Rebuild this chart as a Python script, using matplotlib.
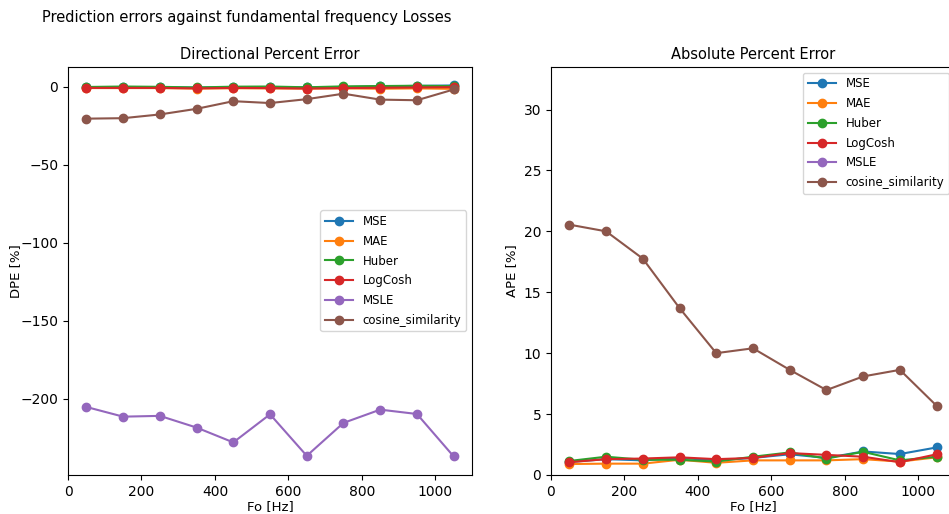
import numpy as np
import matplotlib
matplotlib.use("Agg")
import matplotlib.pyplot as plt

# fundamental frequencies
fo = [50, 150, 250, 350, 450, 550, 650, 750, 850, 950, 1050]
losses = ["MSE", "MAE", "Huber", "LogCosh", "MSLE", "cosine_similarity"]

# directional percent error [%]
dpe_mse = [-0.5, -0.3, -0.4, -0.6, -0.3, -0.4, -0.5, -0.3, 0.2, 0.5, 0.8]
dpe_mae = [-0.9, -0.9, -0.9, -1.2, -1.0, -1.1, -1.2, -1.1, -1.3, -1.1, -1.4]
dpe_huber = [-0.2, 0.1, -0.1, -0.5, 0.0, 0.1, -0.4, 0.2, 0.4, 0.6, 0.3]
dpe_logcosh = [-0.8, -0.8, -0.8, -1.1, -0.8, -0.9, -1.2, -0.9, -0.7, -0.5, -0.3]
dpe_msle = [-205.3, -211.5, -211.0, -218.5, -228.0, -210.0, -236.6, -215.5, -207.0, -209.8, -237.0]
dpe_cos = [-20.5, -20.2, -17.8, -14.2, -9.3, -10.5, -8.0, -4.5, -8.3, -8.7, -1.8]

# absolute percent error [%]
ape_mse = [1.07, 1.3, 1.2, 1.4, 1.2, 1.4, 1.7, 1.4, 1.93, 1.72, 2.26]
ape_mae = [0.9, 0.93, 0.93, 1.25, 1.0, 1.2, 1.2, 1.2, 1.3, 1.1, 1.45]
ape_huber = [1.15, 1.5, 1.25, 1.25, 1.1, 1.5, 1.85, 1.35, 1.9, 1.2, 1.5]
ape_logcosh = [1.05, 1.3, 1.35, 1.45, 1.3, 1.4, 1.8, 1.65, 1.5, 1.05, 1.7]
ape_msle = [205.3, 211.5, 211.0, 218.5, 228.0, 210.0, 236.6, 215.5, 207.0, 209.8, 237.0]
ape_cos = [20.55, 20.0, 17.76, 13.7, 10.0, 10.4, 8.63, 6.97, 8.09, 8.63, 5.68]

dpe = [dpe_mse, dpe_mae, dpe_huber, dpe_logcosh, dpe_msle, dpe_cos]
ape = [ape_mse, ape_mae, ape_huber, ape_logcosh, ape_msle, ape_cos]

fig = plt.figure(figsize=(9.49, 5.14), dpi=100)
ax1 = fig.add_axes([0.0717, 0.0759, 0.4257, 0.794])
ax2 = fig.add_axes([0.5806, 0.0759, 0.4257, 0.794])

fig.text(0.26, 0.965, "Prediction errors against fundamental frequency Losses",
         ha="center", va="center", fontsize=10.5)

leg_kw = dict(fontsize=8.5, labelspacing=0.57, handlelength=2.4)

for name, y in zip(losses, dpe):
    ax1.plot(fo, y, "o-", label=name)
ax1.set_title("Directional Percent Error", fontsize=10.5)
ax1.set_xlabel("Fo [Hz]", fontsize=9.5, labelpad=1)
ax1.set_ylabel("DPE [%]", fontsize=9.5, labelpad=-1)
ax1.legend(loc="center right", **leg_kw)

for name, y in zip(losses, ape):
    ax2.plot(fo, y, "o-", label=name)
ax2.set_title("Absolute Percent Error", fontsize=10.5)
ax2.set_xlabel("Fo [Hz]", fontsize=9.5, labelpad=1)
ax2.set_ylabel("APE [%]", fontsize=9.5)
ax2.set_xlim(0, 1100)
ax2.set_ylim(0, 33.5)
ax2.legend(loc="upper right", **leg_kw)

fig.savefig("out.png", dpi=100)
